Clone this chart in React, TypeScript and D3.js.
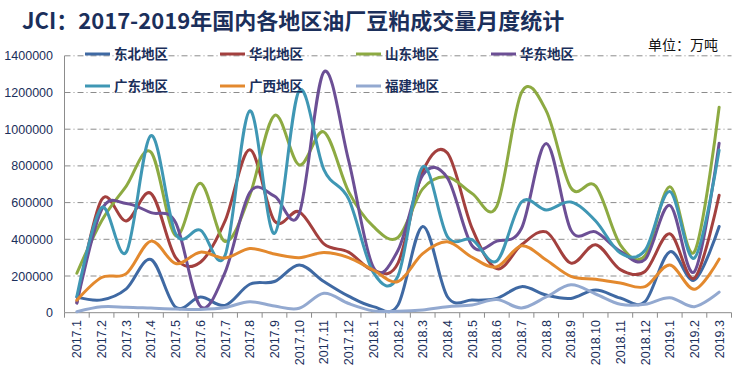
import React from "react";
import * as d3 from "d3";

const categories = ["2017.1","2017.2","2017.3","2017.4","2017.5","2017.6","2017.7","2017.8","2017.9","2017.10","2017.11","2017.12","2018.1","2018.2","2018.3","2018.4","2018.5","2018.6","2018.7","2018.8","2018.9","2018.10","2018.11","2018.12","2019.1","2019.2","2019.3"];

const dongbei = [85000,70000,130000,290000,30000,85000,40000,155000,170000,260000,170000,90000,33000,42000,470000,87000,69000,78000,142000,96000,78000,124000,80000,60000,332000,178000,470000];
const huabei = [55000,615000,500000,650000,300000,275000,500000,888000,500000,550000,375000,330000,230000,270000,770000,870000,460000,240000,370000,440000,270000,370000,235000,225000,430000,189000,640000];
const shandong = [215000,500000,690000,875000,420000,705000,388000,640000,1075000,805000,985000,660000,470000,410000,675000,740000,650000,580000,1200000,1100000,680000,690000,370000,310000,687000,332000,1120000];
const huadong = [52000,560000,595000,545000,490000,35000,220000,655000,635000,540000,1312000,830000,248000,340000,750000,735000,365000,390000,460000,922000,450000,440000,335000,290000,585000,224000,924000];
const guangdong = [88000,572000,330000,965000,430000,450000,312000,1100000,432000,1210000,780000,620000,220000,200000,795000,415000,398000,282000,603000,560000,603000,500000,325000,340000,660000,298000,886000];
const guangxi = [68000,192000,213000,390000,268000,330000,298000,350000,320000,300000,328000,300000,232000,170000,322000,386000,302000,250000,365000,287000,198000,182000,162000,142000,260000,128000,292000];
const fujian = [5000,32000,30000,25000,20000,18000,28000,60000,36000,24000,106000,50000,10000,8000,15000,33000,42000,72000,26000,86000,152000,102000,46000,46000,82000,33000,112000];

const seriesNames = ["东北地区","华北地区","山东地区","华东地区","广东地区","广西地区","福建地区"];
const seriesColors = ["#3F69A3","#A3403E","#8DAA42","#6C4F95","#3F97B4","#E3892E","#93A9D0"];
const seriesValues = [dongbei, huabei, shandong, huadong, guangdong, guangxi, fujian];
const yTicks = [0,200000,400000,600000,800000,1000000,1200000,1400000];

const title = "JCI：2017-2019年国内各地区油厂豆粕成交量月度统计";
const unitText = "单位：万吨";

export default function App() {
  const W = 746, H = 369;
  const left = 64.5, right = 731.5, top = 55.8, bottom = 312.7;
  const x = d3.scaleBand<string>().domain(categories).range([left, right]);
  const y = d3.scaleLinear().domain([0, 1400000]).range([bottom, top]);
  const cx = (c: string) => (x(c) as number) + x.bandwidth() / 2;
  const line = d3.line<number>()
    .x((_, i) => cx(categories[i]))
    .y((d) => y(d))
    .curve(d3.curveCardinal.tension(0));
  const navy = "#1B2F5B";
  const legendPos = [
    [85, 54], [220, 54], [356, 54], [491, 54],
    [85, 86], [220, 86], [356, 86],
  ];
  const ticksX = categories.map((c) => x(c) as number).concat([right]);

  return (
    <svg width={W} height={H} style={{ position: "absolute", left: 0, top: 0, background: "#fff" }}
      fontFamily="'Liberation Sans', Arial, sans-serif">
      <rect x={0} y={0} width={W} height={H} fill="#fff" />
      <text x={22} y={29} fontSize={22} fontWeight="bold" fill={navy}
        fontFamily="'Noto Sans CJK SC', 'Liberation Sans', sans-serif">{title}</text>
      <text x={648} y={50} fontSize={14} fill="#111"
        fontFamily="'Noto Sans CJK SC', sans-serif">{unitText}</text>
      {yTicks.map((t) => (
        <g key={t}>
          {t > 0 && (
            <line x1={left} x2={right} y1={y(t)} y2={y(t)} stroke="#8C8C8C"
              strokeWidth={1} strokeDasharray="6,3,1,3" />
          )}
          <text x={53} y={y(t) + 4.5} fontSize={12.5} textAnchor="end" fill={navy}>{t}</text>
        </g>
      ))}
      <line x1={left} x2={left} y1={top} y2={bottom} stroke="#8C8C8C" strokeWidth={1} />
      <line x1={left} x2={right} y1={bottom} y2={bottom} stroke="#8C8C8C" strokeWidth={1} />
      {ticksX.map((tx, i) => (
        <line key={i} x1={tx} x2={tx} y1={bottom} y2={bottom + 5} stroke="#8C8C8C" strokeWidth={1} />
      ))}
      {categories.map((c) => (
        <text key={c} transform={`translate(${cx(c) + 4.5},${320}) rotate(-90)`} fontSize={12.5}
          textAnchor="end" fill={navy}>{c}</text>
      ))}
      {seriesValues.map((vals, i) => (
        <path key={seriesNames[i]} d={line(vals) || ""} fill="none" stroke={seriesColors[i]}
          strokeWidth={3} strokeLinejoin="round" strokeLinecap="round" />
      ))}
      {seriesNames.map((n, i) => (
        <g key={n}>
          <line x1={legendPos[i][0]} x2={legendPos[i][0] + 25} y1={legendPos[i][1]} y2={legendPos[i][1]}
            stroke={seriesColors[i]} strokeWidth={3} />
          <text x={legendPos[i][0] + 29} y={legendPos[i][1] + 5} fontSize={13.5} fontWeight="bold" fill={navy}
            fontFamily="'Noto Sans CJK SC', sans-serif">{n}</text>
        </g>
      ))}
    </svg>
  );
}
